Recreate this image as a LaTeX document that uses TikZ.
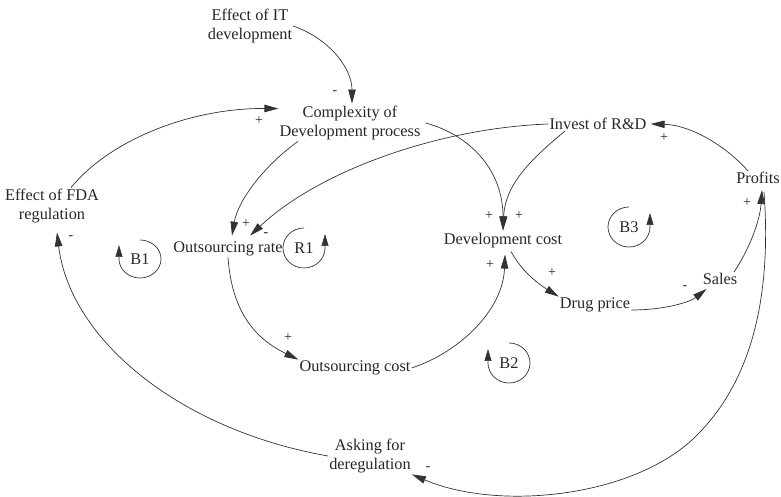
\documentclass[tikz,border=0pt]{standalone}
\usepackage{fontspec}
\setmainfont{Liberation Serif}
\usetikzlibrary{arrows.meta}
\begin{document}
\begin{tikzpicture}[x=1pt,y=1pt,
  var/.style={font=\fontsize{16.3}{19.5}\selectfont, align=center, inner sep=1pt, text=black!85},
  sgn/.style={font=\fontsize{14}{14}\selectfont, inner sep=0pt, text=black!85},
  link/.style={draw=black!80, line width=0.7pt, -{Triangle[length=14pt,width=7.5pt]}},
  loopmark/.style={draw=black!80, line width=0.7pt, -{Triangle[length=12pt,width=7pt]}}
]
\useasboundingbox (0,0) rectangle (781,497);

% variables
\node[var] (itdev)   at (250,471) {Effect of IT\\development};
\node[var] (cplx)    at (350,374) {Complexity of\\Development process};
\node[var] (invest)  at (598,373) {Invest of R\&D};
\node[var] (profits) at (758,319) {Profits};
\node[var] (devcost) at (503,256) {Development cost};
\node[var] (drug)    at (595,192) {Drug price};
\node[var] (sales)   at (720,218) {Sales};
\node[var] (orate)   at (228,248) {Outsourcing rate};
\node[var] (ocost)   at (355,129) {Outsourcing cost};
\node[var] (fda)     at (52,291)  {Effect of FDA\\regulation};
\node[var] (ask)     at (370,41)  {Asking for\\deregulation};

% causal links
\draw[link] (itdev.east) .. controls (332,457) and (352,427) .. ([xshift=2pt,yshift=1pt]cplx.north);
\draw[link] ([xshift=19pt]fda.north) .. controls (110,357) and (190,389) .. ([yshift=-4pt]cplx.north west);
\draw[link] ([xshift=-52pt]cplx.south) .. controls (265,332) and (238,297) .. ([xshift=4pt,yshift=5pt]orate.north);
\draw[link] (invest.west) .. controls (440,369) and (320,327) .. ([xshift=22pt,yshift=5pt]orate.north);
\draw[link] ([xshift=4pt]cplx.east) .. controls (470,362) and (503,327) .. ([yshift=2pt]devcost.north);
\draw[link] ([xshift=-33pt]invest.south) .. controls (530,337) and (505,312) .. ([yshift=2pt]devcost.north);
\draw[link] (orate.south) .. controls (232,182) and (258,157) .. (ocost.north west);
\draw[link] (ocost.east) .. controls (460,145) and (503,187) .. ([xshift=2pt,yshift=-5pt]devcost.south);
\draw[link] ([xshift=8pt,yshift=-2pt]devcost.south) .. controls (522,225) and (540,212) .. (drug.north west);
\draw[link] ([yshift=-5pt]drug.east) .. controls (665,187) and (690,195) .. ([xshift=5pt,yshift=-3pt]sales.south west);
\draw[link] ([xshift=14pt]sales.north) .. controls (750,249) and (760,277) .. ([xshift=4pt,yshift=-5pt]profits.south);
\draw[link] ([xshift=-10pt]profits.north) .. controls (725,352) and (690,372) .. ([xshift=3pt]invest.east);
\draw[link] ([xshift=6pt,yshift=-7pt]profits.south) .. controls (772,197) and (750,117) .. (700,65)
            .. controls (640,0) and (500,-15) .. (ask.south east);
\draw[link] (ask.west) .. controls (180,67) and (70,157) .. ([xshift=5pt,yshift=-8pt]fda.south);

% polarities
\node[sgn] (s1)  at (335,404) {-};
\node[sgn] (s2)  at (259,376) {+};
\node[sgn] (s3)  at (246,273) {+};
\node[sgn] (s4)  at (266,262) {-};
\node[sgn] (s5)  at (489,281) {+};
\node[sgn] (s6)  at (519,281) {+};
\node[sgn] (s7)  at (490,232) {+};
\node[sgn] (s8)  at (552,224) {+};
\node[sgn] (s9)  at (685,209) {-};
\node[sgn] (s10) at (747,294) {+};
\node[sgn] (s11) at (664,359) {+};
\node[sgn] (s12) at (428,28)  {-};
\node[sgn] (s13) at (71,259)  {-};
\node[sgn] (s14) at (288,159) {+};

% loop markers
\draw[loopmark] (140,257) arc[start angle=90,end angle=-180,x radius=21,y radius=19] -- ++(0,14);
\node[var] (b1) at (140,238) {B1};
\draw[loopmark] (304,269) arc[start angle=90,end angle=360,x radius=21,y radius=20] -- ++(0,14);
\node[var] (r1) at (304,249) {R1};
\draw[loopmark] (629,290) arc[start angle=90,end angle=360,x radius=21,y radius=20] -- ++(0,14);
\node[var] (b3) at (629,270) {B3};
\draw[loopmark] (509,154) arc[start angle=90,end angle=-180,x radius=21,y radius=20] -- ++(0,14);
\node[var] (b2) at (509,134) {B2};
\end{tikzpicture}
\end{document}
